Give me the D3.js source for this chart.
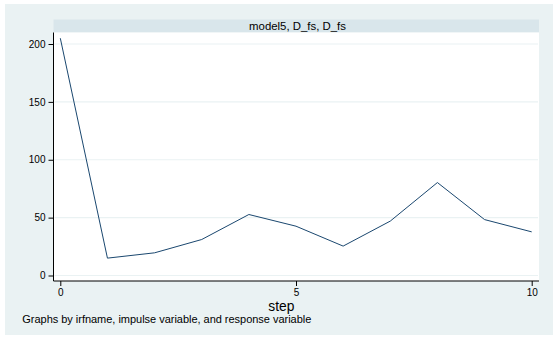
<!DOCTYPE html>
<html lang="en">
<head>
    <meta charset="UTF-8">
    <script src="https://d3js.org/d3.v7.min.js"></script>
    <style>
        body { margin: 0; background: #fff; }
        text { font-family: "Liberation Sans", Arial, sans-serif; fill: #000; }
    </style>
    <title>IRF model5</title>
</head>
<body>
    <script>
        // chart data
        const steps = [0, 1, 2, 3, 4, 5, 6, 7, 8, 9, 10];
        const irf = [205, 15.0, 19.6, 31.1, 52.7, 42.6, 25.4, 47.0, 80.3, 48.3, 37.7];
        const yTicks = [0, 50, 100, 150, 200];
        const xTicks = [0, 5, 10];
        const panelTitle = "model5, D_fs, D_fs";
        const xTitle = "step";
        const note = "Graphs by irfname, impulse variable, and response variable";

        const width = 553, height = 338;
        const plot = { left: 53.5, right: 539, top: 32.5, bottom: 281 };

        const svg = d3.select("body").append("svg")
            .attr("width", width)
            .attr("height", height);

        // outer graph background
        svg.append("rect")
            .attr("x", 5).attr("y", 4)
            .attr("width", width - 5).attr("height", 331)
            .attr("fill", "#eaf2f3");

        // panel header strip
        svg.append("rect")
            .attr("x", plot.left).attr("y", 19.5)
            .attr("width", plot.right - plot.left).attr("height", 13)
            .attr("fill", "#d9e6eb");
        svg.append("text")
            .attr("x", 297.5)
            .attr("y", 26.3)
            .attr("dy", "0.35em")
            .attr("text-anchor", "middle")
            .style("font-size", "11.4px")
            .text(panelTitle);

        // plot region
        svg.append("rect")
            .attr("x", plot.left).attr("y", plot.top)
            .attr("width", plot.right - plot.left).attr("height", plot.bottom - plot.top)
            .attr("fill", "#fff");

        const x = d3.scaleLinear().domain([0, 10]).range([60.3, 531.7]);
        const y = d3.scaleLinear().domain([0, 200]).range([275.5, 44]);

        // gridlines
        svg.append("g")
            .selectAll("line")
            .data(yTicks)
            .enter().append("line")
            .attr("x1", plot.left + 1).attr("x2", plot.right - 1)
            .attr("y1", d => y(d)).attr("y2", d => y(d))
            .attr("stroke", "#eaf2f3")
            .attr("stroke-width", 1.2);

        // y axis
        const yAxis = svg.append("g")
            .attr("transform", `translate(${plot.left},0)`)
            .call(d3.axisLeft(y).tickValues(yTicks).tickSize(5).tickPadding(3).tickFormat(d3.format("d")));
        yAxis.select(".domain").attr("d", `M0,${plot.top}V${plot.bottom}`).attr("stroke", "#000");
        yAxis.selectAll(".tick line").attr("stroke", "#000");
        yAxis.selectAll("text").style("font-size", "10px");

        // x axis
        const xAxis = svg.append("g")
            .attr("transform", `translate(0,${plot.bottom})`)
            .call(d3.axisBottom(x).tickValues(xTicks).tickSize(5).tickPadding(3).tickFormat(d3.format("d")));
        xAxis.select(".domain").attr("d", `M${plot.left},0H${plot.right}`).attr("stroke", "#000");
        xAxis.selectAll(".tick line").attr("stroke", "#000");
        xAxis.selectAll("text").style("font-size", "10px");

        // impulse response line
        const line = d3.line()
            .x((d, i) => x(steps[i]))
            .y(d => y(d));
        svg.append("path")
            .datum(irf)
            .attr("fill", "none")
            .attr("stroke", "#1a476f")
            .attr("stroke-width", 1)
            .attr("d", line);

        // axis title
        svg.append("text")
            .attr("x", 281.3)
            .attr("y", 306)
            .attr("dy", "0.35em")
            .attr("text-anchor", "middle")
            .style("font-size", "13.8px")
            .text(xTitle);

        // note
        svg.append("text")
            .attr("x", 22.3)
            .attr("y", 319)
            .attr("dy", "0.35em")
            .attr("textLength", 289)
            .style("font-size", "11px")
            .text(note);
    </script>
</body>
</html>
